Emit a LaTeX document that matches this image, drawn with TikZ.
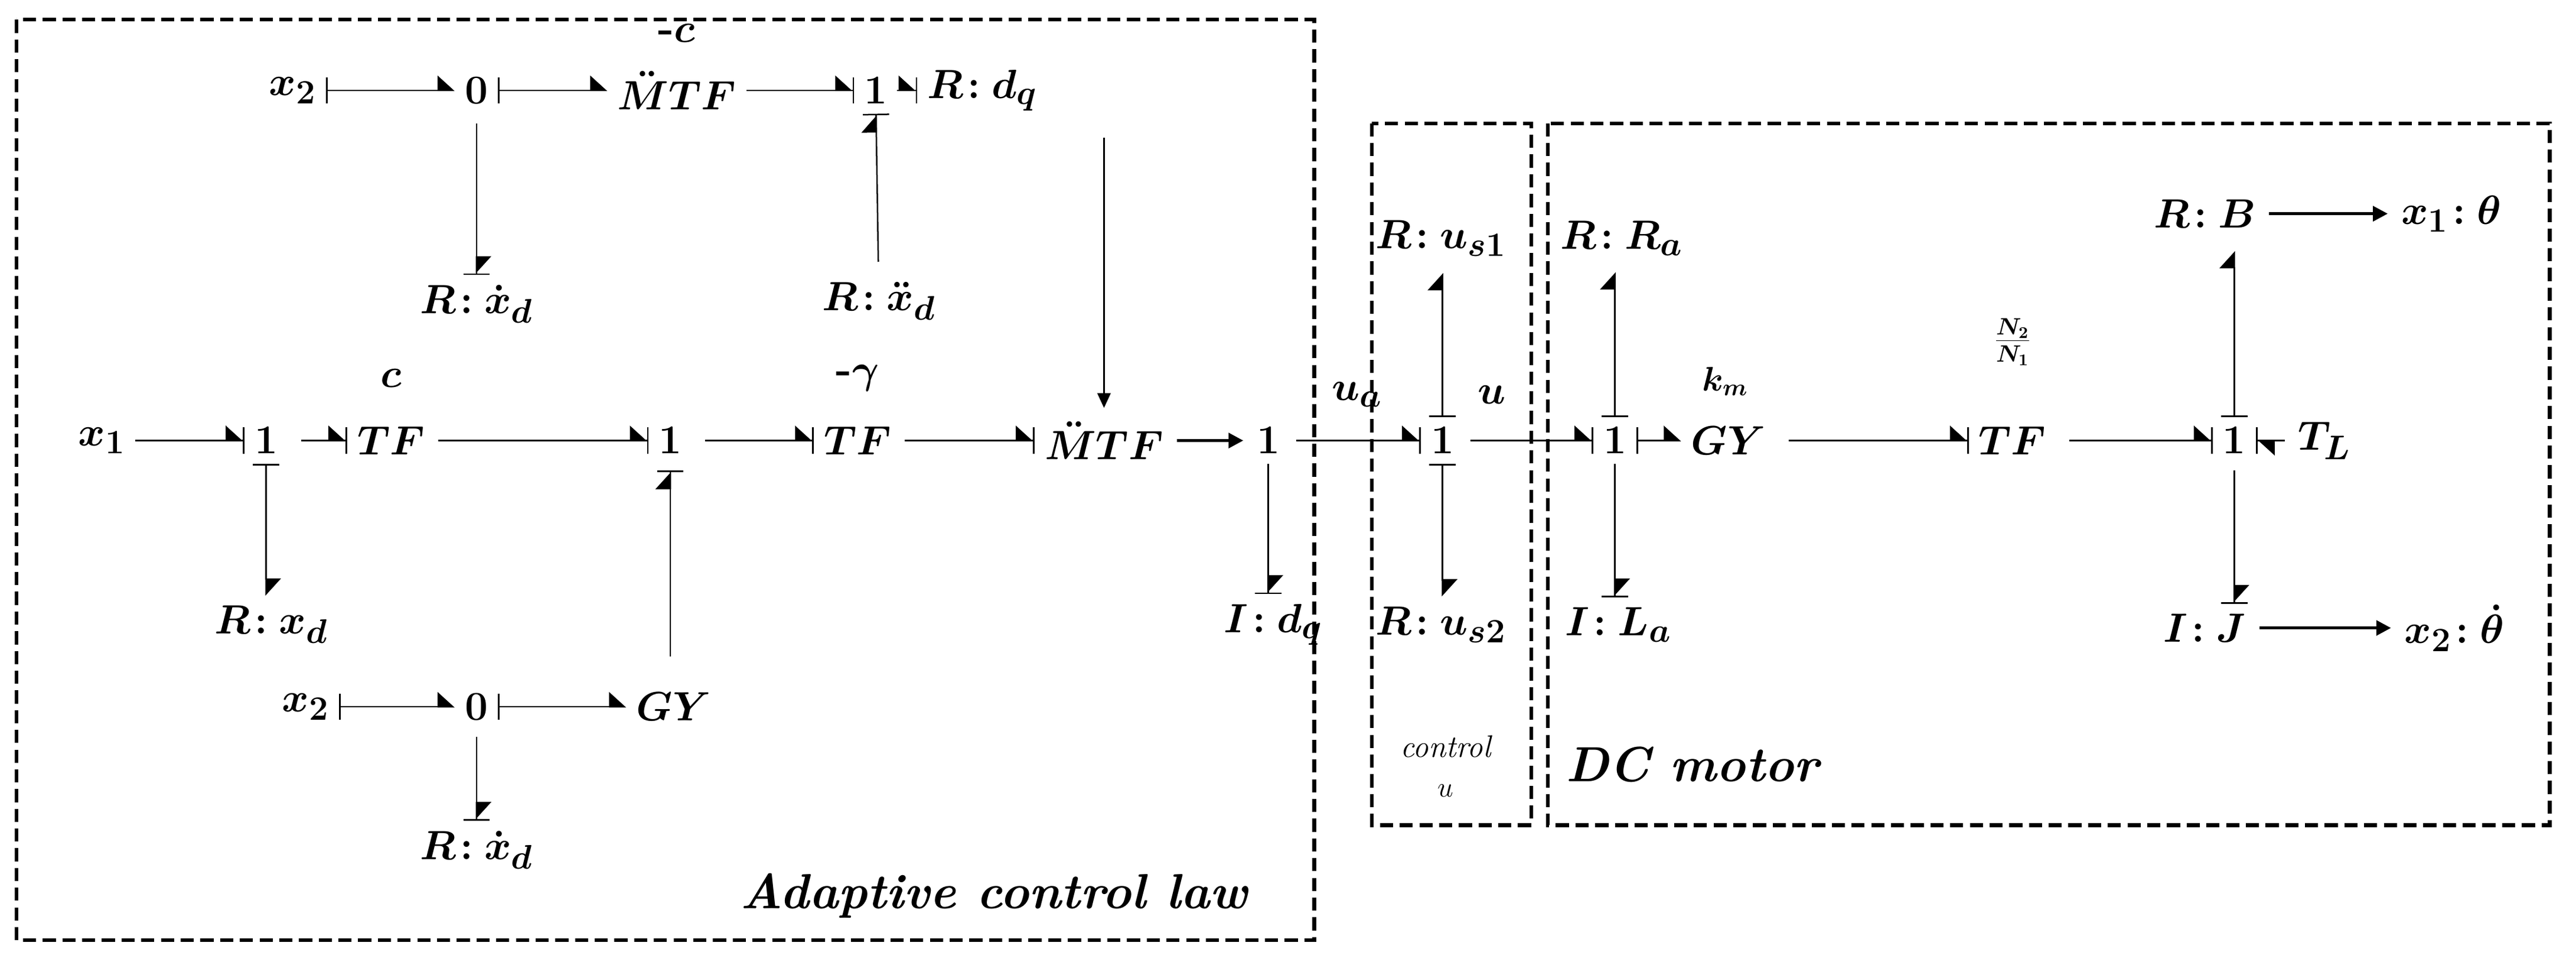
\documentclass[tikz,border=0pt]{standalone}
\usepackage{bm}
\usetikzlibrary{arrows.meta}
\newcommand{\Bt}[1]{$\bm{#1}$}
\begin{document}
\begin{tikzpicture}[x=1pt,y=-1pt,
  every node/.style={font=\fontsize{31}{36}\selectfont,inner sep=2pt},
  lab/.style={font=\fontsize{26}{30}\selectfont},
  bond/.style={line width=0.9pt,shorten <=4pt,shorten >=4pt},
  bE/.style={bond,-{Triangle[harpoon,length=10pt,width=18pt]Bar[width=16pt,line width=0.9pt,sep=0pt]}},
  bS/.style={bond,{Bar[width=16pt,line width=0.9pt]}-{Triangle[harpoon,length=10pt,width=18pt]}},
  sig/.style={line width=2pt,-{Triangle[length=9pt,width=9pt]},shorten <=6pt,shorten >=6pt},
  box/.style={dashed,line width=2.2pt,dash pattern=on 8pt off 4pt}]
\useasboundingbox (0,0) rectangle (1568,585);
\draw[box] (10,12) rectangle (800,572);
\draw[box] (835,75) rectangle (932,502);
\draw[box] (942,75) rectangle (1552,502);
% top row
\node (ax2) at (178,55) {\Bt{x_2}};
\node (a0) at (290,55) {\Bt{0}};
\node (amtf) at (412,55) {\Bt{\ddot{M}TF}};
\node[lab] (amc) at (412,20) {\Bt{\mbox{-}c}};
\node (a1) at (533,55) {\Bt{1}};
\node (aRdq) at (598,55) {\Bt{R\!:d_q}};
\node (aRxd) at (290,185) {\Bt{R\!:\dot{x}_d}};
\node (aRxdd) at (535,183) {\Bt{R\!:\ddot{x}_d}};
% middle row
\node (bx1) at (62,268) {\Bt{x_1}};
\node (b1) at (162,268) {\Bt{1}};
\node (bTF) at (238,268) {\Bt{TF}};
\node[lab] (bc) at (238,230) {\Bt{c}};
\node (b12) at (408,268) {\Bt{1}};
\node (bTF2) at (522,268) {\Bt{TF}};
\node[lab] (bg) at (522,230) {\Bt{\mbox{-}\gamma}};
\node (bMTF) at (672,268) {\Bt{\ddot{M}TF}};
\node (b1a) at (772,268) {\Bt{1}};
\node (c1) at (878,268) {\Bt{1}};
\node (d1) at (983,268) {\Bt{1}};
\node (dGY) at (1052,268) {\Bt{GY}};
\node[font=\fontsize{20}{24}\selectfont] (km) at (1050,232) {$\bm{k_m}$};
\node (dTF) at (1225,268) {\Bt{TF}};
\node[font=\fontsize{20}{24}\selectfont] (nn) at (1225,208) {$\bm{\frac{N_2}{N_1}}$};
\node (j1) at (1360,268) {\Bt{1}};
\node (TL) at (1415,268) {\Bt{T_L}};
\node (ua) at (826,240) {\Bt{u_a}};
\node (u) at (908,240) {\Bt{u}};
\node (bRxd) at (165,380) {\Bt{R\!:x_d}};
\node (bIdq) at (775,380) {\Bt{I\!:d_q}};
% bottom row
\node (cx2) at (186,430) {\Bt{x_2}};
\node (c0) at (290,430) {\Bt{0}};
\node (cGY) at (410,430) {\Bt{GY}};
\node (cRxd) at (290,517) {\Bt{R\!:\dot{x}_d}};
% right parts
\node (Rus1) at (877,145) {\Bt{R\!:u_{s1}}};
\node (Rus2) at (877,380) {\Bt{R\!:u_{s2}}};
\node (RRa) at (987,145) {\Bt{R\!:R_a}};
\node (ILa) at (985,380) {\Bt{I\!:L_a}};
\node (RB) at (1342,130) {\Bt{R\!:B}};
\node (x1t) at (1492,130) {\Bt{x_1\!:\theta}};
\node (IJ) at (1342,382) {\Bt{I\!:J}};
\node (x2t) at (1494,382) {\Bt{x_2\!:\dot{\theta}}};
\node[font=\fontsize{30}{34}\selectfont\bfseries\itshape] (acl) at (605,545) {Adaptive control law};
\node[font=\fontsize{19}{24}\selectfont\itshape, align=center] (cu) at (880,466) {control\\ $u$};
\node[font=\fontsize{30}{34}\selectfont\bfseries\itshape] (dcm) at (1030,465) {DC motor};
% bonds top
\draw[bS] (ax2) -- (a0);
\draw[bS] (a0) -- (amtf);
\draw[bE] (amtf) -- (a1);
\draw[bE] (a1) -- (aRdq);
\draw[bE,shorten <=10pt] (a0) -- (aRxd);
\draw[bE,shorten <=10pt] (aRxdd) -- (a1);
\draw[line width=1.2pt,-{Triangle[length=9pt,width=8pt]},shorten <=14pt,shorten >=6pt] (bMTF |- aRdq.south) -- (bMTF.north);
% middle
\draw[bE] (bx1) -- (b1);
\draw[bE,shorten <=12pt] (b1) -- (bTF);
\draw[bE,shorten <=6pt] (bTF) -- (b12);
\draw[bE,shorten <=12pt] (b12) -- (bTF2);
\draw[bE,shorten <=6pt] (bTF2) -- (bMTF);
\draw[sig] (bMTF) -- (b1a);
\draw[bS] (b1.south) -- (b1.south |- bRxd.north);
\draw[bE,shorten <=20pt,shorten >=8pt] (b12 |- cGY.north) -- (b12.south);
\draw[bE] (b1a.south) -- (b1a.south |- bIdq.north);
\draw[bE,shorten <=8pt] (b1a) -- (c1);
\draw[bE,shorten <=8pt] (c1) -- (d1);
\draw[bS,shorten >=8pt] (c1.north) -- (c1.north |- Rus1.south);
\draw[bS] (c1.south) -- (c1.south |- Rus2.north);
\draw[bS,shorten >=8pt] (d1.north) -- (d1.north |- RRa.south);
\draw[bE] (d1.south) -- (d1.south |- ILa.north);
\draw[bS] (d1) -- (dGY);
\draw[bE,shorten <=12pt] (dGY) -- (dTF);
\draw[bE,shorten <=12pt] (dTF) -- (j1);
\draw[bE,shorten <=6pt] (TL) -- (j1);
\draw[bS,shorten >=12pt] (j1.north) -- (j1.north |- RB.south);
\draw[bE,shorten <=8pt] (j1.south) -- (j1.south |- IJ.north);
\draw[sig] (RB) -- (x1t);
\draw[sig] (IJ) -- (x2t);
% bottom
\draw[bS] (cx2) -- (c0);
\draw[bS] (c0) -- (cGY);
\draw[bE,shorten <=8pt] (c0) -- (cRxd);
\end{tikzpicture}
\end{document}
